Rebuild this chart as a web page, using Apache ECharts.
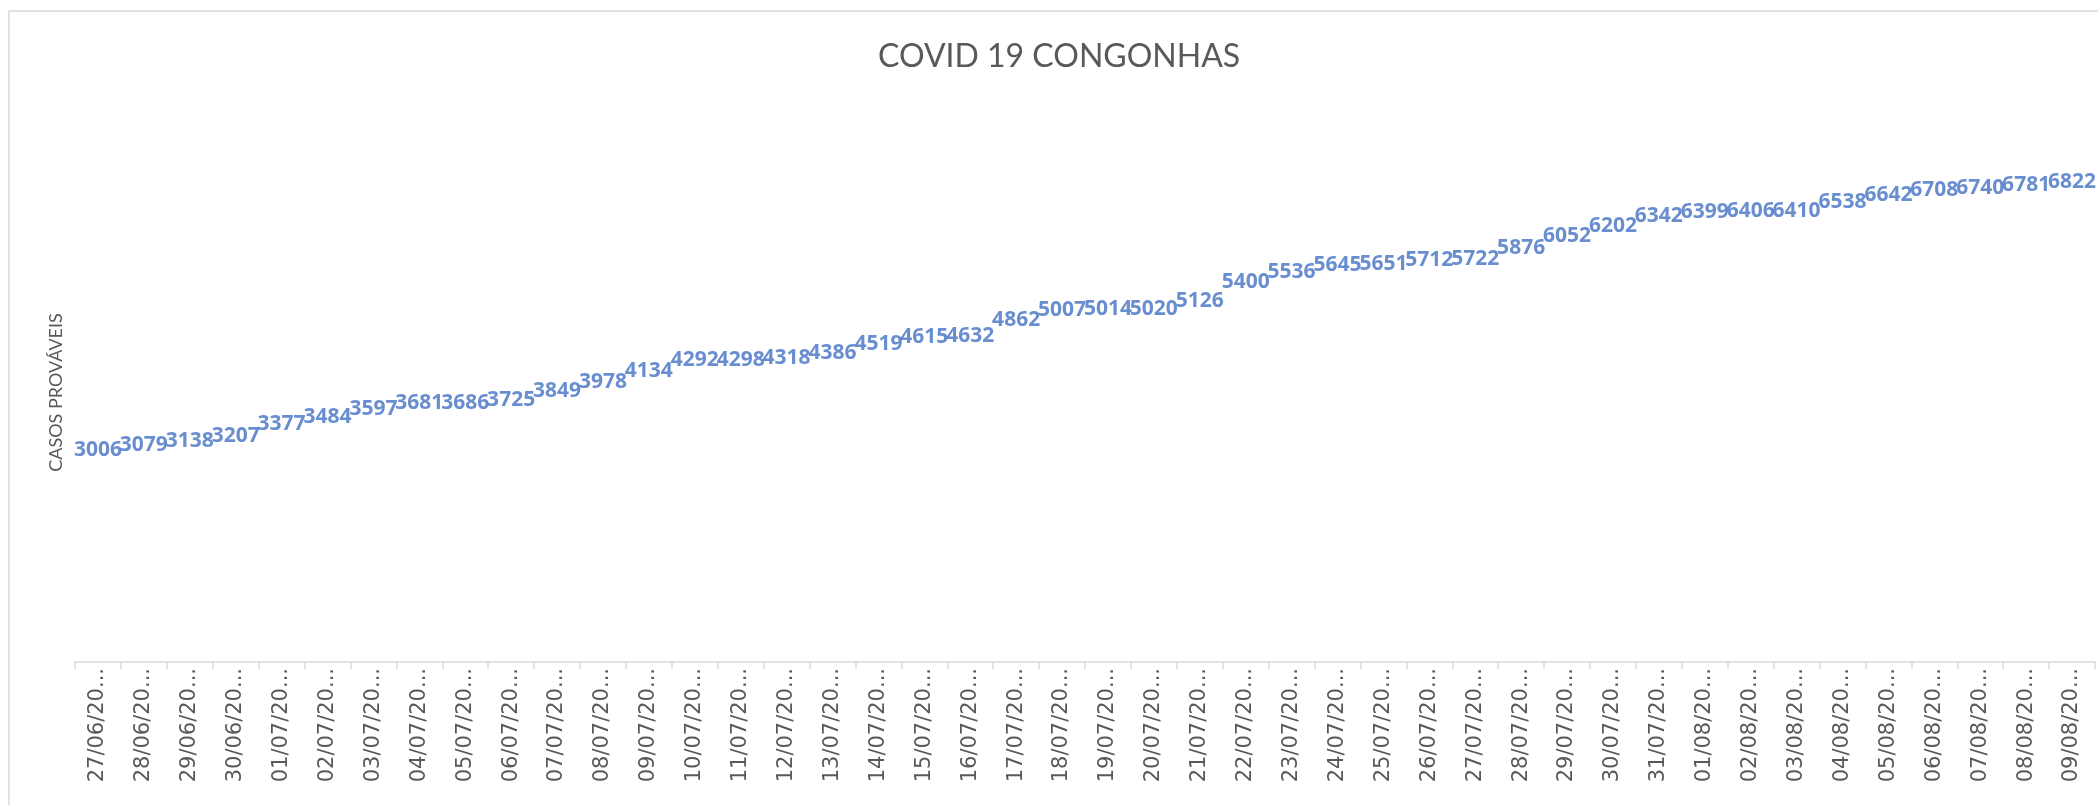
<!DOCTYPE html>
<html>
<head>
<meta charset="utf-8">
<script src="https://cdn.jsdelivr.net/npm/echarts@6/dist/echarts.min.js"></script>
<style>
  html, body { margin: 0; padding: 0; background: #fff; }
  #chart { width: 2098px; height: 805px; }
</style>
</head>
<body>
<div id="chart"></div>
<script>
// dias (dd/mm/aaaa) e casos prováveis
const dias = [
  "27/06/2020", "28/06/2020", "29/06/2020", "30/06/2020",
  "01/07/2020", "02/07/2020", "03/07/2020", "04/07/2020", "05/07/2020",
  "06/07/2020", "07/07/2020", "08/07/2020", "09/07/2020", "10/07/2020",
  "11/07/2020", "12/07/2020", "13/07/2020", "14/07/2020", "15/07/2020",
  "16/07/2020", "17/07/2020", "18/07/2020", "19/07/2020", "20/07/2020",
  "21/07/2020", "22/07/2020", "23/07/2020", "24/07/2020", "25/07/2020",
  "26/07/2020", "27/07/2020", "28/07/2020", "29/07/2020", "30/07/2020",
  "31/07/2020", "01/08/2020", "02/08/2020", "03/08/2020", "04/08/2020",
  "05/08/2020", "06/08/2020", "07/08/2020", "08/08/2020", "09/08/2020"
];
const casos = [
  3006, 3079, 3138, 3207, 3377, 3484, 3597, 3681, 3686, 3725,
  3849, 3978, 4134, 4292, 4298, 4318, 4386, 4519, 4615, 4632,
  4862, 5007, 5014, 5020, 5126, 5400, 5536, 5645, 5651, 5712,
  5722, 5876, 6052, 6202, 6342, 6399, 6406, 6410, 6538, 6642,
  6708, 6740, 6781, 6822
];
const yMin = 0;
const yMax = 8000;

var myChart = echarts.init(document.getElementById("chart"));
var option = {
  backgroundColor: "#fff",
  textStyle: { fontFamily: "Lato" },
  graphic: [
    {
      type: "rect",
      shape: { x: 9, y: 11, width: 2200, height: 900 },
      style: { fill: "none", stroke: "#d9d9d9", lineWidth: 1.5 },
      silent: true,
    },
  ],
  title: {
    text: "COVID 19 CONGONHAS",
    left: 878,
    top: 41,
    padding: 0,
    textStyle: {
      color: "#595959",
      fontSize: 32,
      fontWeight: "normal",
      fontFamily: "Lato",
    },
  },
  grid: {
    left: 75,
    right: 3,
    top: 99,
    bottom: 143,
  },
  xAxis: {
    type: "category",
    data: dias,
    boundaryGap: true,
    axisLine: {
      show: true,
      lineStyle: { color: "#d9d9d9", width: 1.5 },
    },
    axisTick: {
      show: true,
      length: 7,
      interval: 0,
      lineStyle: { color: "#d9d9d9", width: 1.5 },
    },
    axisLabel: {
      interval: 0,
      rotate: 90,
      margin: 6,
      color: "#595959",
      fontSize: 21,
      fontFamily: "DejaVu Sans",
      // o Excel corta o texto do rótulo
      formatter: function (v) {
        return v.slice(0, 8) + "...";
      },
    },
  },
  yAxis: {
    type: "value",
    min: yMin,
    max: yMax,
    name: "CASOS PROVÁVEIS",
    nameLocation: "middle",
    nameRotate: 90,
    nameGap: 10,
    nameTextStyle: {
      color: "#595959",
      fontSize: 18,
      fontFamily: "Lato",
      padding: [0, 24, 0, 0],
    },
    axisLine: { show: false },
    axisTick: { show: false },
    axisLabel: { show: false },
    splitLine: { show: false },
  },
  series: [
    {
      type: "scatter",
      data: casos,
      symbolSize: 1,
      itemStyle: { color: "rgba(0,0,0,0)" },
      label: {
        show: true,
        position: "inside",
        color: "#4472c4",
        fontSize: 21,
        fontWeight: "bold",
        fontFamily: "Open Sans",
      },
    },
  ],
};

option && myChart.setOption(option);
</script>
</body>
</html>
